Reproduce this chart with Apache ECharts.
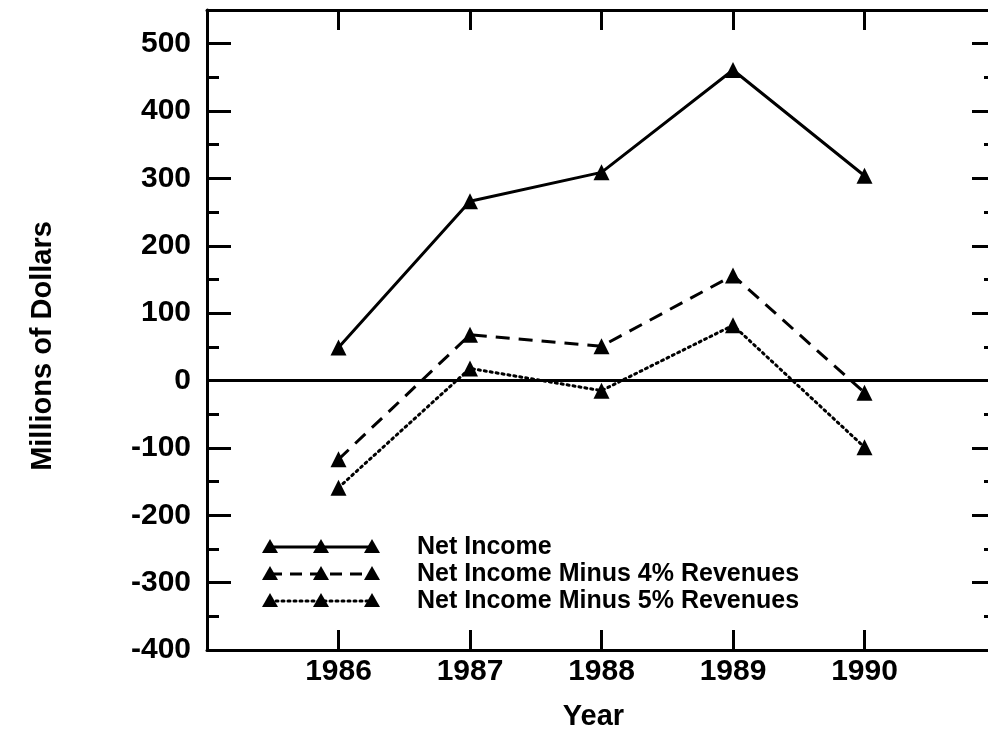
<!DOCTYPE html>
<html>
<head>
<meta charset="utf-8">
<script src="https://cdn.jsdelivr.net/npm/echarts@6/dist/echarts.min.js"></script>
<style>
html,body{margin:0;padding:0;background:#fff;}
#chart{width:988px;height:734px;}
</style>
</head>
<body>
<div id="chart"></div>
<script>
var years = [1986, 1987, 1988, 1989, 1990];
var netIncome = [49, 266, 309, 461, 304];
var minus4 = [-117, 68, 51, 156, -18];
var minus5 = [-159, 18, -15, 82, -99];
var seriesNames = ['Net Income', 'Net Income Minus 4% Revenues', 'Net Income Minus 5% Revenues'];
var yTicks = [-400, -300, -200, -100, 0, 100, 200, 300, 400, 500];

var FONT = '"Liberation Sans", Arial, Helvetica, sans-serif';
var BLACK = '#000';

function pairs(vals) {
  return years.map(function (y, i) { return [y, vals[i]]; });
}

var dashStyles = ['solid', [14, 9], [2, 4]];

function makeSeries(name, vals, idx) {
  var s = {
    name: name,
    type: 'line',
    data: pairs(vals),
    symbol: 'triangle',
    symbolSize: 16,
    itemStyle: { color: BLACK },
    lineStyle: { color: BLACK, width: 3, type: dashStyles[idx], cap: idx === 2 ? 'round' : 'butt' },
    z: 3
  };
  if (idx === 0) {
    s.markLine = {
      silent: true,
      symbol: ['none', 'none'],
      label: { show: false },
      lineStyle: { color: BLACK, width: 3, type: 'solid' },
      data: [{ yAxis: 0 }]
    };
  }
  return s;
}

// legend drawn as graphic decoration
var legendX = [270, 321, 372];
var legendY = [547, 574, 601];
var graphics = [];
seriesNames.forEach(function (name, i) {
  var y = legendY[i];
  graphics.push({
    type: 'line',
    shape: { x1: legendX[0], y1: y, x2: legendX[2], y2: y },
    style: { stroke: BLACK, lineWidth: 3, lineDash: i === 0 ? null : (i === 1 ? [12, 8] : [2, 4]), lineCap: i === 2 ? 'round' : 'butt' }
  });
  legendX.forEach(function (x) {
    graphics.push({
      type: 'polygon',
      shape: { points: [[x, y - 8], [x - 8, y + 6], [x + 8, y + 6]] },
      style: { fill: BLACK }
    });
  });
  graphics.push({
    type: 'text',
    left: 417,
    top: y - 12,
    style: { text: name, fill: BLACK, font: 'bold 25px ' + FONT }
  });
});

var option = {
  backgroundColor: '#fff',
  animation: false,
  grid: { left: 207, top: 10, right: -8, bottom: 84, outerBoundsMode: 'none', containLabel: false },
  xAxis: [{
    type: 'value',
    min: 1985, max: 1991, interval: 1,
    position: 'bottom',
    name: 'Year',
    nameLocation: 'middle',
    nameGap: 52,
    nameTextStyle: { fontFamily: FONT, fontWeight: 'bold', fontSize: 29, color: BLACK, padding: [0, 16, 0, 0] },
    axisLine: { show: true, onZero: false, lineStyle: { color: BLACK, width: 3 } },
    axisTick: { show: true, inside: true, length: 20, lineStyle: { color: BLACK, width: 3 } },
    axisLabel: {
      margin: 7,
      fontFamily: FONT, fontWeight: 'bold', fontSize: 30, color: BLACK,
      formatter: function (v) { return years.indexOf(v) >= 0 ? String(v) : ''; }
    },
    splitLine: { show: false }
  }, {
    type: 'value',
    min: 1985, max: 1991, interval: 1,
    position: 'top',
    axisLine: { show: true, onZero: false, lineStyle: { color: BLACK, width: 3 } },
    axisTick: { show: true, inside: true, length: 20, lineStyle: { color: BLACK, width: 3 } },
    axisLabel: { show: false },
    splitLine: { show: false }
  }],
  yAxis: [{
    type: 'value',
    min: -400, max: 550, interval: 100,
    position: 'left',
    name: 'Millions of Dollars',
    nameLocation: 'middle',
    nameRotate: 90,
    nameGap: 150,
    nameTextStyle: { fontFamily: FONT, fontWeight: 'bold', fontSize: 29, color: BLACK, padding: [0, 32, 0, 0] },
    axisLine: { show: true, onZero: false, lineStyle: { color: BLACK, width: 3 } },
    axisTick: { show: true, inside: true, length: 24, lineStyle: { color: BLACK, width: 3 } },
    minorTick: { show: true, splitNumber: 2, length: 12, lineStyle: { color: BLACK, width: 3 } },
    axisLabel: {
      margin: 16,
      fontFamily: FONT, fontWeight: 'bold', fontSize: 30, color: BLACK,
      formatter: function (v) { return yTicks.indexOf(v) >= 0 ? String(v) : ''; }
    },
    splitLine: { show: false }
  }, {
    type: 'value',
    min: -400, max: 550, interval: 100,
    position: 'right',
    axisLine: { show: true, onZero: false, lineStyle: { color: BLACK, width: 3 } },
    axisTick: { show: true, inside: true, length: 24, lineStyle: { color: BLACK, width: 3 } },
    minorTick: { show: true, splitNumber: 2, length: 12, lineStyle: { color: BLACK, width: 3 } },
    axisLabel: { show: false },
    splitLine: { show: false }
  }],
  series: [
    makeSeries(seriesNames[0], netIncome, 0),
    makeSeries(seriesNames[1], minus4, 1),
    makeSeries(seriesNames[2], minus5, 2)
  ],
  graphic: graphics
};

var chart = echarts.init(document.getElementById('chart'), null, { renderer: 'canvas' });
chart.setOption(option);
</script>
</body>
</html>
